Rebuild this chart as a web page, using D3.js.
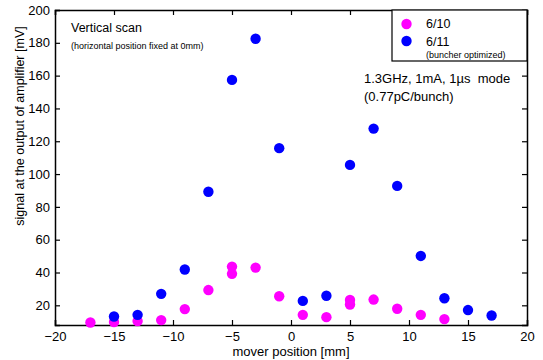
<!DOCTYPE html>
<html>
<head>
<meta charset="utf-8">
<script src="https://cdn.jsdelivr.net/npm/d3@7"></script>
<style>
  body { margin: 0; background: #fff; }
  svg { display: block; }
</style>
</head>
<body>
<div id="chart"></div>
<script>
// --- data ---
const pinkX = [-17, -15, -13, -11, -9, -7, -5, -5, -3, -1, 1, 3, 5, 5, 7, 9, 11, 13];
const pinkY = [9.5, 9.8, 10.4, 11, 17.7, 29.3, 43.6, 39.2, 43, 25.5, 14.2, 12.8, 23.3, 20.5, 23.5, 17.9, 14.2, 11.6];
const blueX = [-15, -13, -11, -9, -7, -5, -3, -1, 1, 3, 5, 7, 9, 11, 13, 15, 17];
const blueY = [13.2, 14.2, 27, 41.8, 89.2, 157.4, 182.5, 115.8, 22.7, 25.8, 105.6, 127.7, 92.8, 50.1, 24.3, 17.1, 13.8];
const xTicks = [-20, -15, -10, -5, 0, 5, 10, 15, 20];
const yTicks = [20, 40, 60, 80, 100, 120, 140, 160, 180, 200];

const WIDTH = 543, HEIGHT = 360;
const M = { top: 10, right: 16, bottom: 35, left: 55 };
const FONT = "'Liberation Sans', Arial, Helvetica, sans-serif";

const x = d3.scaleLinear().domain([-20, 20]).range([M.left, WIDTH - M.right]);
const y = d3.scaleLinear().domain([8, 200]).range([HEIGHT - M.bottom, M.top]);

const svg = d3.select("#chart").append("svg")
    .attr("width", WIDTH).attr("height", HEIGHT)
    .style("font-family", FONT);

// axes with inward ticks, mirrored on top/right
const tk = 5;
svg.append("g").attr("transform", `translate(0,${y.range()[0]})`)
    .call(d3.axisBottom(x).tickValues(xTicks).tickSize(-tk).tickPadding(7))
    .call(g => g.selectAll("text").attr("font-size", 13).attr("fill", "#000").attr("font-family", FONT));
svg.append("g").attr("transform", `translate(0,${M.top})`)
    .call(d3.axisTop(x).tickValues(xTicks).tickSize(-tk).tickFormat(""));
svg.append("g").attr("transform", `translate(${M.left},0)`)
    .call(d3.axisLeft(y).tickValues(yTicks).tickSize(-tk).tickPadding(5))
    .call(g => g.selectAll("text").attr("font-size", 13).attr("fill", "#000").attr("font-family", FONT));
svg.append("g").attr("transform", `translate(${WIDTH - M.right},0)`)
    .call(d3.axisRight(y).tickValues(yTicks).tickSize(-tk).tickFormat(""));
svg.selectAll(".domain").attr("stroke", "#000").attr("stroke-width", 1.5);
svg.selectAll(".tick line").attr("stroke", "#000").attr("stroke-width", 1.2);

// points
const r = 5.2;
svg.append("g").selectAll("circle").data(pinkX.map((d, i) => [d, pinkY[i]]))
    .join("circle").attr("cx", d => x(d[0])).attr("cy", d => y(d[1])).attr("r", r)
    .attr("fill", "#ff00ff");
svg.append("g").selectAll("circle").data(blueX.map((d, i) => [d, blueY[i]]))
    .join("circle").attr("cx", d => x(d[0])).attr("cy", d => y(d[1])).attr("r", r)
    .attr("fill", "#0000ff");

// axis titles
svg.append("text").attr("x", 291).attr("y", 356)
    .attr("text-anchor", "middle").attr("font-size", 13).text("mover position [mm]");
svg.append("text")
    .attr("transform", "translate(24,126) rotate(-90)")
    .attr("text-anchor", "middle").attr("font-size", 12.5)
    .text("signal at the output of amplifier [mV]");

// annotations
svg.append("text").attr("x", 71).attr("y", 32).attr("font-size", 12.5).text("Vertical scan");
svg.append("text").attr("x", 71).attr("y", 49).attr("font-size", 9).text("(horizontal position fixed at 0mm)");
svg.append("text").attr("x", 364).attr("y", 83).attr("font-size", 13).style("white-space", "pre")
    .text("1.3GHz, 1mA, 1\u00b5s  mode");
svg.append("text").attr("x", 364).attr("y", 101).attr("font-size", 13).text("(0.77pC/bunch)");

// legend
const lg = svg.append("g");
lg.append("rect").attr("x", 392).attr("y", M.top).attr("width", WIDTH - M.right - 392).attr("height", 51)
    .attr("fill", "#fff").attr("stroke", "#000").attr("stroke-width", 1.2);
lg.append("circle").attr("cx", 406.5).attr("cy", 24).attr("r", r).attr("fill", "#ff00ff");
lg.append("circle").attr("cx", 406.5).attr("cy", 41).attr("r", r).attr("fill", "#0000ff");
lg.append("text").attr("x", 426).attr("y", 28).attr("font-size", 12.5).text("6/10");
lg.append("text").attr("x", 426).attr("y", 46).attr("font-size", 12.5).text("6/11");
lg.append("text").attr("x", 426).attr("y", 58).attr("font-size", 9).text("(buncher optimized)");
</script>
</body>
</html>
